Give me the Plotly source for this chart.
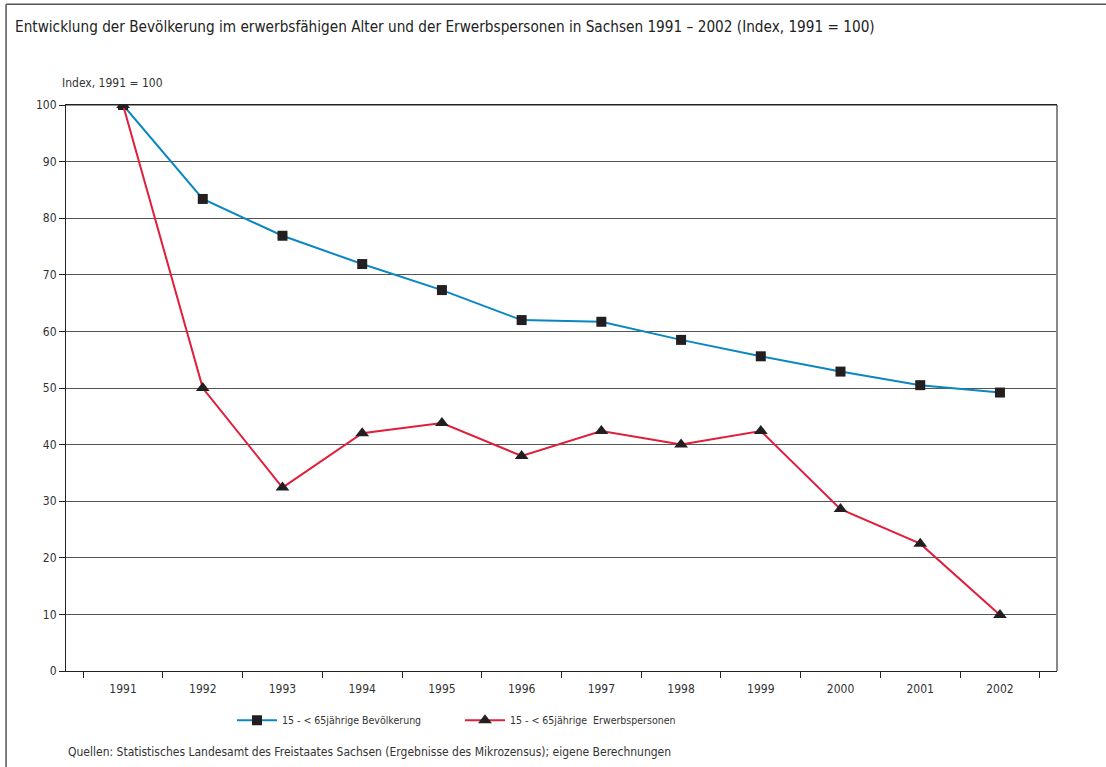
import plotly.graph_objects as go

# Daten (Index, 1991 = 100)
jahre = ["1991", "1992", "1993", "1994", "1995", "1996",
         "1997", "1998", "1999", "2000", "2001", "2002"]
bevoelkerung = [100, 83.4, 76.9, 71.9, 67.3, 62.0, 61.7, 58.5, 55.6, 52.9, 50.5, 49.2]
erwerbspersonen = [100, 50.0, 32.4, 42.0, 43.8, 38.0, 42.4, 40.0, 42.4, 28.6, 22.5, 9.9]

schrift = "DejaVu Sans Condensed, Liberation Sans Narrow, sans-serif"
grau = "#333333"

fig = go.Figure()
fig.add_trace(go.Scatter(
    x=jahre, y=bevoelkerung, mode="lines+markers",
    name="15 - < 65jährige Bevölkerung",
    line=dict(color="#0a87c2", width=2),
    marker=dict(symbol="square", size=10, color="#231f20"),
))
fig.add_trace(go.Scatter(
    x=jahre, y=erwerbspersonen, mode="lines+markers",
    name="15 - < 65jährige  Erwerbspersonen",
    line=dict(color="#e01e3c", width=2),
    marker=dict(symbol="triangle-up", size=12, color="#231f20"),
))

fig.update_layout(
    width=1106, height=767,
    margin=dict(l=66, r=49, t=105, b=96),
    paper_bgcolor="white", plot_bgcolor="white",
    font=dict(family=schrift, size=12, color=grau),
    showlegend=True,
    legend=dict(orientation="h", x=0.1675, y=-0.087, xanchor="left", yanchor="middle",
                font=dict(size=10.5, color=grau), entrywidth=173, itemwidth=40,
                bgcolor="rgba(0,0,0,0)"),
    xaxis=dict(type="category", tickson="boundaries", ticks="outside", ticklen=6,
               tickcolor="#222", showline=True, linecolor="#222", linewidth=1.2,
               mirror=True, showgrid=False, tickfont=dict(size=12), ticklabelstandoff=6),
    yaxis=dict(range=[0, 100], dtick=10, ticks="outside", ticklen=6, tickcolor="#222",
               showline=True, linecolor="#222", linewidth=1.2, gridcolor="#555555",
               gridwidth=1, zeroline=False, tickfont=dict(size=12)),
)

# rechter Rahmen grau
fig.add_shape(type="line", xref="paper", yref="paper", x0=1, x1=1, y0=0, y1=1,
              line=dict(color="#888888", width=2))
# oberste Gitterlinie
fig.add_shape(type="line", xref="paper", yref="paper", x0=0, x1=1, y0=1, y1=1,
              line=dict(color="#222", width=1.2))

# äußerer Rahmen
fig.add_shape(type="line", xref="paper", yref="paper", x0=-0.0605, x1=1.06, y0=1.178, y1=1.178,
              line=dict(color="#555555", width=1.5))
fig.add_shape(type="line", xref="paper", yref="paper", x0=-0.0605, x1=-0.0605, y0=1.178, y1=-0.2,
              line=dict(color="#555555", width=1.5))

fig.add_annotation(text="Entwicklung der Bevölkerung im erwerbsfähigen Alter und der Erwerbspersonen in Sachsen 1991 – 2002 (Index, 1991 = 100)",
                   xref="paper", yref="paper", x=-0.0535, y=1.137, xanchor="left", yanchor="middle",
                   showarrow=False, font=dict(size=15.2, color="#222"))
fig.add_annotation(text="Index, 1991 = 100", xref="paper", yref="paper",
                   x=-0.006, y=1.039, xanchor="left", yanchor="middle",
                   showarrow=False, font=dict(size=12, color=grau))
fig.add_annotation(text="Quellen: Statistisches Landesamt des Freistaates Sachsen (Ergebnisse des Mikrozensus); eigene Berechnungen",
                   xref="paper", yref="paper", x=-0.0, y=-0.143, xanchor="left", yanchor="middle",
                   showarrow=False, font=dict(size=12, color=grau))

fig.write_html("out.html", config={"displayModeBar": False},
               post_script="document.body.style.margin='0';")
